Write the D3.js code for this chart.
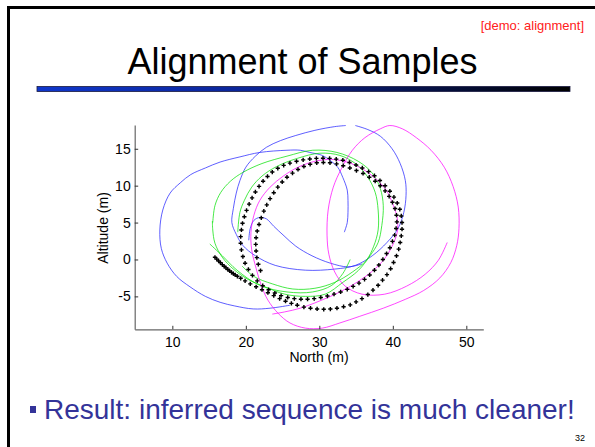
<!DOCTYPE html>
<html>
<head>
<meta charset="utf-8">
<script src="https://cdn.jsdelivr.net/npm/d3@7"></script>
<style>
  body { margin: 0; background: #fff; }
  svg { display: block; font-family: "Liberation Sans", Arial, sans-serif; }
</style>
</head>
<body>
<div id="slide"></div>
<script>

// tick labels
var xTicks = [10, 20, 30, 40, 50];
var yTicks = [-5, 0, 5, 10, 15];

// traces, [north, altitude] in metres
var blueLeft = [[26.0,-6.2],[23.3,-6.6],[21.0,-6.7],[18.5,-6.3],[16.5,-5.8],[14.5,-5.0],[12.4,-3.7],
    [10.6,-2.3],[9.3,-0.5],[8.5,1.5],[8.3,4.0],[8.7,6.7],[9.7,9.0],[11.1,10.4],[12.5,11.5],[14.5,12.4],
    [16.5,13.2],[19.2,13.9],[21.9,14.5],[25.6,14.8],[27.4,14.8],[28.7,14.5],[30.4,14.1],[31.5,13.4],
    [32.5,12.5],[33.2,11.1],[33.8,9.4],[33.9,8.0],[33.9,6.4],[33.8,5.0],[33.4,3.7]];

var blueSquiggle = [[20.4,2.6],[20.6,4.2],[21.1,5.3],[21.9,5.7],[22.8,5.5],[23.8,4.5],[25.2,3.2],
    [26.8,1.8],[29.0,0.5],[31.5,-0.5],[33.9,-1.0],[35.8,-0.6]];

var blueLoop = [[33.6,18.15],[32.1,18.0],[29.4,17.5],[26.8,16.8],[24.7,16.1],[22.8,15.2],[21.3,14.0],
    [20.0,12.5],[19.2,10.7],[18.7,9.0],[18.3,6.9],[18.1,5.0],[18.7,3.4],[19.6,1.9],[21.3,0.5],
    [24.0,-0.8],[28.1,-1.45],[32.1,-1.3],[34.9,-0.8],[37.2,0.5],[39.2,2.3],[40.7,4.2],[41.5,6.4],
    [41.8,8.7],[41.7,10.7],[41.0,13.0],[39.9,15.0],[38.3,16.7],[36.6,17.6],[34.9,18.15]];

var greenOuter = [[15.5,5.0],[15.8,7.3],[16.6,9.1],[17.9,10.6],[19.6,11.8],[22.2,13.0],[25.6,14.0],
    [29.1,14.8],[32.4,14.5],[35.3,13.3],[37.2,11.7],[38.3,9.6],[38.7,7.3],[38.5,4.6],[38.0,2.3],
    [36.9,0.5],[35.3,-1.5],[33.2,-3.1],[30.8,-4.7],[28.1,-5.0],[25.3,-4.7],[22.6,-3.7],[20.3,-2.7],
    [18.3,-1.3],[16.8,0.3],[15.8,2.2],[15.5,4.0],[15.45,5.2]];

var greenInner = [[18.9,3.7],[19.2,6.4],[19.8,8.0],[20.8,9.8],[22.2,11.3],[24.2,12.6],[27.0,13.7],
    [30.1,14.4],[32.8,14.1],[34.9,13.0],[36.5,11.3],[37.6,9.1],[38.0,6.7],[38.0,4.0],[37.4,1.8],
    [36.4,-0.1],[34.5,-1.7],[32.1,-3.1],[29.4,-3.9],[26.4,-4.0],[23.6,-3.3],[21.1,-2.3],[19.5,-0.9]];

var greenEnd = [[15.1,2.1],[16.8,0.5],[18.8,-1.45],[21.9,-3.5],[25.6,-4.4],[29.1,-4.4],[31.7,-3.5],
    [33.2,-1.9],[34.2,0.0]];

var magentaSpiral = [[47.4,2.3],[46.2,-0.1],[44.4,-2.0],[41.9,-3.6],[38.9,-4.7],[35.8,-4.7],[33.5,-3.6],
    [32.1,-1.7],[31.3,0.7],[31.05,3.3],[31.2,6.7],[31.9,9.8],[33.0,12.3],[34.5,14.8],[36.2,16.5],
    [38.3,17.7],[39.6,18.15],[41.3,17.7],[43.2,16.5],[45.2,14.8],[47.0,12.5],[48.2,9.9],[48.9,7.1],
    [49.0,4.2],[48.7,1.9],[47.9,-0.4],[46.4,-2.5],[44.2,-4.2],[41.7,-5.4],[38.7,-6.6],[35.5,-7.7],
    [32.8,-8.6],[30.4,-9.3],[28.1,-9.3],[26.0,-8.6],[24.4,-7.3],[23.0,-5.5],[22.1,-3.5],[21.4,-1.2],
    [20.8,1.3],[20.7,3.7],[21.1,6.0],[21.9,8.0],[23.3,9.8],[25.1,11.3],[27.1,12.5],[29.4,13.3],
    [31.7,13.55],[33.9,13.15],[35.8,12.3],[37.6,11.0],[39.1,9.4],[40.0,7.5],[40.6,5.6],[40.6,3.7],
    [39.9,1.8],[38.8,0.0],[37.2,-1.6],[35.1,-3.1],[32.8,-4.4],[30.1,-5.6],[27.4,-6.6],[25.3,-7.1],
    [23.6,-7.4]];

// inferred sequence (samples)
var blackTrack = [[15.8,0.3],[16.05,0.05],[16.3,-0.2],[16.55,-0.45],[16.8,-0.7],[17.05,-0.92],
    [17.3,-1.14],[17.55,-1.35],[17.8,-1.55],[18.05,-1.75],[18.3,-1.93],[18.55,-2.1],[18.85,-2.28],
    [19.3,-2.55],[19.9,-2.9],[20.6,-3.3],[21.4,-3.7],[22.2,-4.1],[23.0,-4.5],[23.8,-4.9],[24.6,-5.3],
    [25.4,-5.65],[26.2,-5.95],[27.0,-6.2],[27.9,-6.45],[28.8,-6.6],[29.7,-6.7],[30.6,-6.75],
    [31.5,-6.72],[32.4,-6.6],[33.3,-6.4],[34.2,-6.15],[35.0,-5.75],[35.8,-5.3],[36.6,-4.75],
    [37.3,-4.15],[38.0,-3.5],[38.6,-2.8],[39.2,-2.05],[39.7,-1.25],[40.1,-0.4],[40.5,0.5],[40.8,1.4],
    [41.0,2.3],[41.15,3.2],[41.25,4.1],[41.25,5.0],[41.15,5.9],[40.95,6.8],[40.6,7.65],[40.15,8.45],
    [39.6,9.25],[38.95,10.0],[38.25,10.7],[37.5,11.35],[36.7,11.9],[35.85,12.4],[35.0,12.8],
    [34.1,13.15],[33.2,13.45],[32.3,13.6],[31.4,13.7],[30.5,13.72],[29.6,13.7],[28.7,13.62],
    [27.8,13.5],[26.9,13.3],[26.0,13.05],[25.15,12.75],[24.35,12.35],[23.6,11.85],[22.95,11.25],
    [22.35,10.6],[21.8,9.9],[21.3,9.15],[20.85,8.35],[20.45,7.5],[20.1,6.65],[19.8,5.8],[19.55,4.9],
    [19.4,4.0],[19.3,3.1],[19.3,2.2],[19.4,1.3],[19.6,0.4],[19.9,-0.5],[20.35,-1.35],[20.9,-2.15],
    [21.55,-2.9],[22.3,-3.55],[23.1,-4.1],[23.95,-4.55],[24.8,-4.9],[25.7,-5.15],[26.6,-5.3],
    [27.5,-5.38],[28.4,-5.38],[29.3,-5.3],[30.2,-5.15],[31.1,-4.95],[32.0,-4.7],[32.9,-4.4],
    [33.8,-4.05],[34.6,-3.65],[35.4,-3.2],[36.15,-2.7],[36.85,-2.1],[37.5,-1.45],[38.1,-0.75],
    [38.65,0.0],[39.15,0.8],[39.6,1.6],[39.95,2.45],[40.25,3.3],[40.45,4.2],[40.55,5.1],[40.5,6.0],
    [40.3,6.9],[39.95,7.75],[39.5,8.55],[38.95,9.3],[38.3,10.0],[37.6,10.6],[36.8,11.15],
    [35.95,11.65],[35.05,12.05],[34.15,12.4],[33.25,12.7],[32.35,12.95],[31.45,13.1],[30.55,13.15],
    [29.65,13.1],[28.75,12.9],[27.9,12.6],[27.1,12.2],[26.35,11.7],[25.6,11.15],[24.95,10.5],
    [24.35,9.8],[23.8,9.05],[23.3,8.25],[22.85,7.4],[22.45,6.55],[22.1,5.65],[21.8,4.75],
    [21.55,3.85],[21.4,2.95],[21.35,2.05],[21.4,1.15],[21.5,0.25],[21.7,-0.65],[22.0,-1.5]];

var lineSeries = [
    {name: 'blueLeft', pts: blueLeft, color: '#2020ff'},
    {name: 'blueSquiggle', pts: blueSquiggle, color: '#2020ff'},
    {name: 'blueLoop', pts: blueLoop, color: '#2020ff'},
    {name: 'greenOuter', pts: greenOuter, color: '#00e000'},
    {name: 'greenInner', pts: greenInner, color: '#00e000'},
    {name: 'greenEnd', pts: greenEnd, color: '#00e000'},
    {name: 'magentaSpiral', pts: magentaSpiral, color: '#ff00ff'},
];

var W = 595, H = 447;

var svg = d3.select("#slide").append("svg")
    .attr("width", W)
    .attr("height", H);

var defs = svg.append("defs");
var grad = defs.append("linearGradient").attr("id", "barGrad");
grad.append("stop").attr("offset", "0%").attr("stop-color", "#0f37cc");
grad.append("stop").attr("offset", "45%").attr("stop-color", "#0a2290");
grad.append("stop").attr("offset", "100%").attr("stop-color", "#000000");

// slide frame
svg.append("rect").attr("x", 7).attr("y", 6).attr("width", W - 7).attr("height", 3).attr("fill", "#000");
svg.append("rect").attr("x", 7).attr("y", 6).attr("width", 3).attr("height", H - 6).attr("fill", "#000");

svg.append("text")
    .attr("x", 584).attr("y", 30)
    .attr("text-anchor", "end")
    .attr("font-size", 13)
    .attr("fill", "#ff2020")
    .text("[demo: alignment]");

svg.append("text")
    .attr("x", 302.5).attr("y", 74)
    .attr("text-anchor", "middle")
    .attr("font-size", 36)
    .attr("fill", "#000")
    .text("Alignment of Samples");

svg.append("rect")
    .attr("x", 37).attr("y", 86.5)
    .attr("width", 533).attr("height", 5)
    .attr("fill", "url(#barGrad)")
    .attr("stroke", "#1a1a40").attr("stroke-width", 0.8);

// plot
var x = d3.scaleLinear().domain([4.88, 52.31]).range([134.7, 483.3]);
var y = d3.scaleLinear().domain([-9.46, 18.22]).range([329.3, 125]);

var plot = svg.append("g");

var line = d3.line()
    .x(d => x(d[0]))
    .y(d => y(d[1]))
    .curve(d3.curveCatmullRom.alpha(0.5));

plot.selectAll("path.trace")
    .data(lineSeries)
    .enter()
    .append("path")
    .attr("class", "trace")
    .attr("d", d => line(d.pts))
    .attr("fill", "none")
    .attr("stroke", d => d.color)
    .attr("stroke-width", 0.9)
    .attr("stroke-opacity", 0.8);

var cross = d3.symbol().type(d3.symbolCross).size(10);

plot.selectAll("path.sample")
    .data(blackTrack)
    .enter()
    .append("path")
    .attr("class", "sample")
    .attr("transform", d => "translate(" + x(d[0]) + "," + y(d[1]) + ")")
    .attr("d", cross)
    .attr("fill", "#000");

var xAxis = d3.axisBottom(x)
    .tickValues(xTicks)
    .tickFormat(d => String(d))
    .tickSizeInner(-3.5)
    .tickSizeOuter(0)
    .tickPadding(7.5);

var yAxis = d3.axisLeft(y)
    .tickValues(yTicks)
    .tickFormat(d => String(d))
    .tickSizeInner(-3.5)
    .tickSizeOuter(0)
    .tickPadding(4);

var gx = svg.append("g").attr("transform", "translate(0,329.3)").call(xAxis);
var gy = svg.append("g").attr("transform", "translate(134.7,0)").call(yAxis);

[gx, gy].forEach(g => {
    g.select(".domain").attr("stroke", "#666").attr("stroke-width", 1.2);
    g.selectAll(".tick line").attr("stroke", "#333");
    g.selectAll(".tick text")
        .attr("font-size", 14)
        .attr("font-family", "'Liberation Sans', Arial, sans-serif")
        .attr("fill", "#000");
});

svg.append("text")
    .attr("x", 319).attr("y", 362)
    .attr("text-anchor", "middle")
    .attr("font-size", 14)
    .text("North (m)");

svg.append("text")
    .attr("transform", "translate(108,228) rotate(-90)")
    .attr("text-anchor", "middle")
    .attr("font-size", 14)
    .text("Altitude (m)");

// bullet line
svg.append("rect")
    .attr("x", 30).attr("y", 406)
    .attr("width", 6).attr("height", 7)
    .attr("fill", "#333399");

svg.append("text")
    .attr("x", 44).attr("y", 419)
    .attr("font-size", 28)
    .attr("fill", "#333399")
    .text("Result: inferred sequence is much cleaner!");

svg.append("text")
    .attr("x", 585).attr("y", 441)
    .attr("text-anchor", "end")
    .attr("font-size", 9)
    .attr("fill", "#000")
    .text("32");

</script>
</body>
</html>
